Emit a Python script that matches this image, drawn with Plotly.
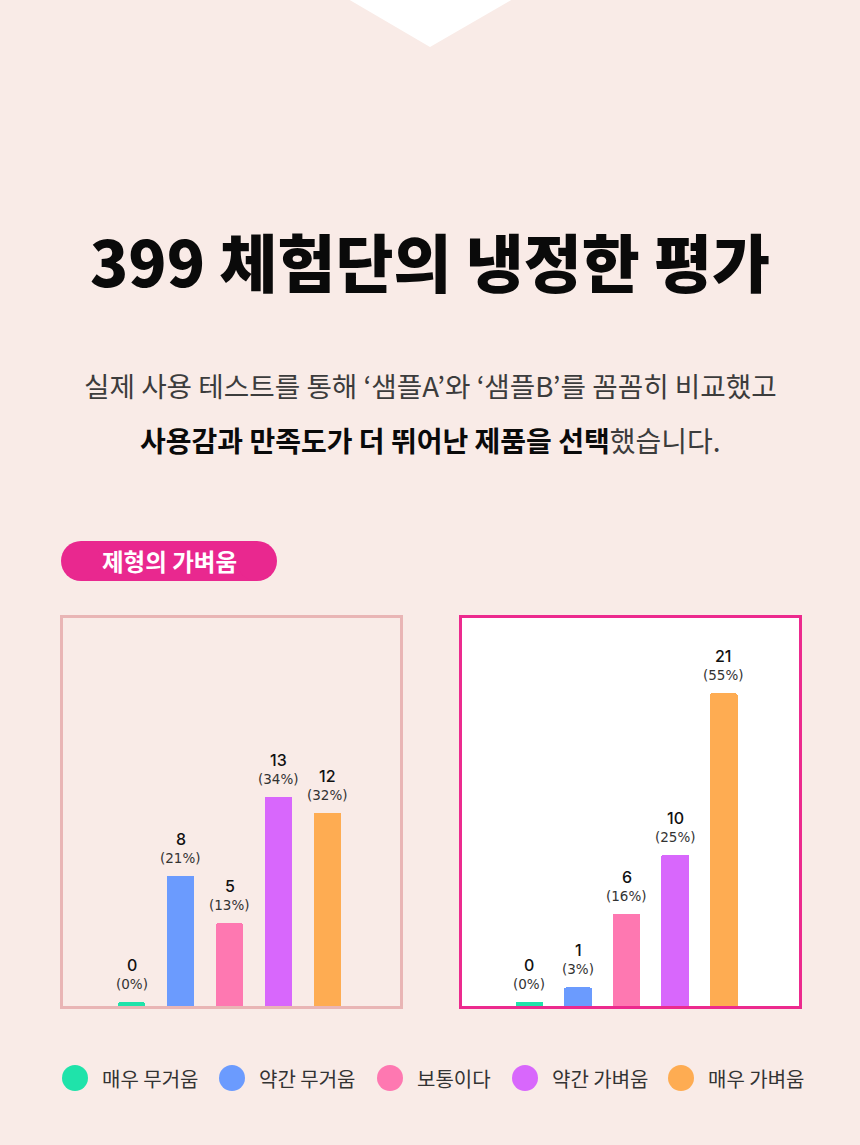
import plotly.graph_objects as go

# ---------------- data ----------------
categories = ["매우 무거움", "약간 무거움", "보통이다", "약간 가벼움", "매우 가벼움"]
sample_a_counts = [0, 8, 5, 13, 12]
sample_a_pcts = [0, 21, 13, 34, 32]
sample_b_counts = [0, 1, 6, 10, 21]
sample_b_pcts = [0, 3, 16, 25, 55]
bar_colors = ["#1fe3aa", "#6b9bfe", "#fe78b1", "#d867fc", "#feac52"]

title_text = "399 체험단의 냉정한 평가"
sub_line1 = "실제 사용 테스트를 통해 ‘샘플A’와 ‘샘플B’를 꼼꼼히 비교했고"
sub_line2_bold = "사용감과 만족도가 더 뛰어난 제품을 선택"
sub_line2_reg = "했습니다."
pill_text = "제형의 가벼움"

# ---------------- layout helpers ----------------
W, H = 860, 1145
BG = "#f9ebe7"
KR = "Noto Sans CJK KR"
NUM = "DejaVu Sans"


def px(x):
    return x / W


def py(y):
    return 1 - y / H


fig = go.Figure()

# chart geometry (pixels)
box_top, base_px = 615, 1006
left_box = (60, 402)
right_box = (459, 801)
STUB_A = 0.234
STUB_B = 0.272

panels = [
    dict(x="x", y="y", counts=sample_a_counts, pcts=sample_a_pcts, stub=STUB_A),
    dict(x="x2", y="y2", counts=sample_b_counts, pcts=sample_b_pcts, stub=STUB_B),
]

for p in panels:
    # small decorative stub so zero-value bars remain visible
    fig.add_trace(go.Bar(
        x=categories, y=[p["stub"]] * len(categories), xaxis=p["x"], yaxis=p["y"],
        marker=dict(color=bar_colors, line=dict(width=0)), width=0.57,
        showlegend=False, hoverinfo="skip",
    ))
    fig.add_trace(go.Bar(
        x=categories, y=p["counts"], xaxis=p["x"], yaxis=p["y"],
        marker=dict(color=bar_colors, line=dict(width=0)), width=0.57,
        showlegend=False,
    ))

annotations = []
for p in panels:
    xref = p["x"]
    yref = p["y"]
    for c, v, pc in zip(categories, p["counts"], p["pcts"]):
        top = v + p["stub"]
        annotations.append(dict(
            x=c, y=top, xref=xref, yref=yref, text=str(v), showarrow=False,
            yanchor="middle", yshift=37,
            font=dict(family="Inter", size=16, color="#111111", weight=500),
        ))
        annotations.append(dict(
            x=c, y=top, xref=xref, yref=yref, text=f"({pc}%)", showarrow=False,
            yanchor="middle", yshift=18,
            font=dict(family=NUM, size=13.5, color="#333333"),
        ))

# title & subtitle
annotations.append(dict(
    x=0.5, y=py(259), xref="paper", yref="paper", text=title_text,
    showarrow=False, xanchor="center", yanchor="middle",
    font=dict(family=KR, size=63, color="#0a0a0a", weight=900),
))
annotations.append(dict(
    x=0.5, y=py(385), xref="paper", yref="paper", text=sub_line1,
    showarrow=False, xanchor="center", yanchor="middle",
    font=dict(family=KR, size=27.7, color="#3c3c3c"),
))
annotations.append(dict(
    x=0.5, y=py(440), xref="paper", yref="paper",
    text=f"<b>{sub_line2_bold}</b><span style='color:#3c3c3c'>{sub_line2_reg}</span>",
    showarrow=False, xanchor="center", yanchor="middle",
    font=dict(family=KR, size=28, color="#0a0a0a"),
))
# pill label
annotations.append(dict(
    x=px(169), y=py(561), xref="paper", yref="paper", text=f"<b>{pill_text}</b>",
    showarrow=False, xanchor="center", yanchor="middle",
    font=dict(family=KR, size=23.5, color="#ffffff"),
))

shapes = []
# top white triangle
shapes.append(dict(
    type="path", xref="paper", yref="paper",
    path=f"M {px(348)},{py(-1)} L {px(513)},{py(-1)} L {px(430)},{py(47)} Z",
    fillcolor="#ffffff", line=dict(width=0), layer="below",
))
# pill
PINK = "#e9288f"
shapes.append(dict(type="rect", xref="paper", yref="paper",
                   x0=px(81), x1=px(257), y0=py(581), y1=py(541),
                   fillcolor=PINK, line=dict(width=0), layer="below"))
for cx in (81, 257):
    shapes.append(dict(type="circle", xref="paper", yref="paper",
                       x0=px(cx - 20), x1=px(cx + 20), y0=py(581), y1=py(541),
                       fillcolor=PINK, line=dict(width=0), layer="below"))
# chart boxes
shapes.append(dict(type="rect", xref="paper", yref="paper",
                   x0=px(61.5), x1=px(401.5), y0=py(1007.5), y1=py(616.5),
                   fillcolor="rgba(0,0,0,0)", line=dict(color="#e9b5b5", width=3),
                   layer="above"))
shapes.append(dict(type="rect", xref="paper", yref="paper",
                   x0=px(460.5), x1=px(800.5), y0=py(1007.5), y1=py(616.5),
                   fillcolor="#ffffff", line=dict(width=0), layer="below"))
shapes.append(dict(type="rect", xref="paper", yref="paper",
                   x0=px(460.5), x1=px(800.5), y0=py(1007.5), y1=py(616.5),
                   fillcolor="rgba(0,0,0,0)", line=dict(color="#ec2a8e", width=3),
                   layer="above"))

# legend
legend_cx = [75, 232, 390, 525, 681]
for cx, name, col in zip(legend_cx, categories, bar_colors):
    shapes.append(dict(type="circle", xref="paper", yref="paper",
                       x0=px(cx - 13), x1=px(cx + 13), y0=py(1091), y1=py(1065),
                       fillcolor=col, line=dict(width=0)))
    annotations.append(dict(
        x=px(cx + 25), y=py(1078), xref="paper", yref="paper", text=name,
        showarrow=False, xanchor="left", yanchor="middle",
        font=dict(family=KR, size=20, color="#333333"),
    ))

hidden = dict(visible=False, showgrid=False, zeroline=False, fixedrange=True)

fig.update_layout(
    width=W, height=H,
    margin=dict(l=0, r=0, t=0, b=0),
    paper_bgcolor=BG, plot_bgcolor="rgba(0,0,0,0)",
    barmode="stack", barcornerradius=2,
    showlegend=False,
    xaxis=dict(domain=[px(left_box[0]), px(left_box[1])],
               range=[-1.459, 5.52], anchor="y", **hidden),
    yaxis=dict(domain=[py(base_px), py(box_top)], range=[0, 24.75],
               anchor="x", **hidden),
    xaxis2=dict(domain=[px(right_box[0]), px(right_box[1])],
                range=[-1.45, 5.59], anchor="y2", **hidden),
    yaxis2=dict(domain=[py(base_px), py(box_top)], range=[0, 26.6],
                anchor="x2", **hidden),
    shapes=shapes,
    annotations=annotations,
)

fig.write_html(
    "out.html",
    config={"displayModeBar": False},
    post_script="document.body.style.margin='0';document.body.style.background='%s';" % BG,
)
